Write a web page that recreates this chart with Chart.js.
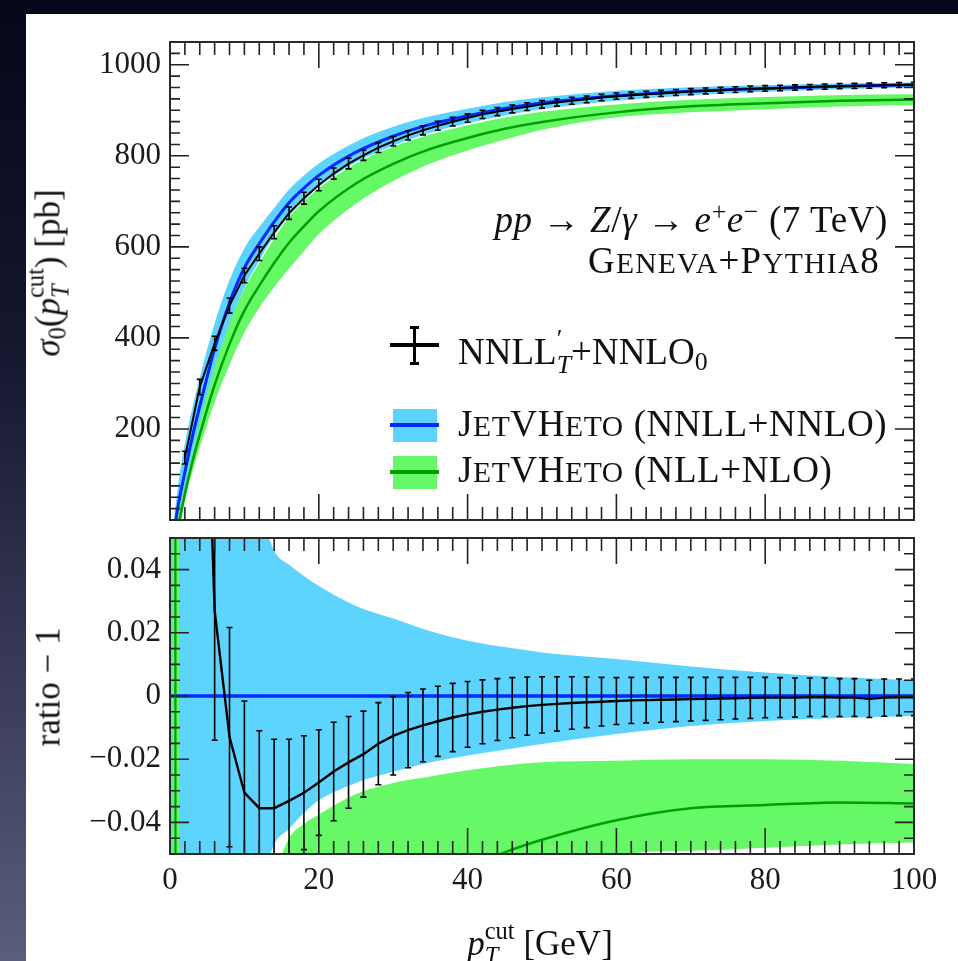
<!DOCTYPE html>
<html>
<head>
<meta charset="utf-8">
<title>sigma0(pTcut) – Geneva vs JetVHeto</title>
<script src="https://cdn.jsdelivr.net/npm/chart.js@4.4.0/dist/chart.umd.min.js"></script>
<style>
  html, body { margin: 0; padding: 0; }
  body {
    width: 958px; height: 961px; overflow: hidden; position: relative;
    background: linear-gradient(180deg, #06071a 0%, #14162e 35%, #383a58 70%, #5a5d7b 100%);
    font-family: "Liberation Serif", "DejaVu Serif", serif; color: #111;
  }
  #panel { position: absolute; left: 26px; top: 14px; right: 0; bottom: 0; background: #fff; }
  canvas { position: absolute; left: 0; }
  #topCanvas { top: 0; }
  #ratioCanvas { top: 500px; }
  .txt { position: absolute; font-size: 35px; line-height: 35px; white-space: nowrap; }
  .big { font-size: 37px; line-height: 37px; letter-spacing: 0.6px; }
  .smc { text-transform: uppercase; font-size: 0.8em; }
  .ss { display: inline-block; vertical-align: -0.36em; line-height: 1; font-size: 0.7em; text-align: left; letter-spacing: 0; }
  .ss > span { display: block; }
  sup { font-size: 0.7em; vertical-align: 0.45em; line-height: 0; }
  sub { font-size: 0.7em; vertical-align: -0.25em; line-height: 0; }
  .rot { transform: translate(-50%, -50%) rotate(-90deg); }
  .sym { position: absolute; }
</style>
</head>
<body>
<div id="panel"></div>
<canvas id="topCanvas" width="958" height="550"></canvas>
<canvas id="ratioCanvas" width="958" height="430"></canvas>

<!-- annotations -->
<div class="txt big" style="right:70px; top:201px;"><i>pp</i> → <i>Z</i>/<i>γ</i> → <i>e</i><sup>+</sup><i>e</i><sup>−</sup> (7 TeV)</div>
<div class="txt big" style="right:78px; top:242px; letter-spacing:1.2px;">G<span class="smc">eneva</span>+P<span class="smc">ythia</span>8</div>

<!-- legend -->
<div class="sym" style="left:390px; top:343px; width:49px; height:4px; background:#000;"></div>
<div class="sym" style="left:413px; top:327px; width:3px; height:37px; background:#000;"></div>
<div class="sym" style="left:410px; top:326px; width:9px; height:3px; background:#000;"></div>
<div class="sym" style="left:410px; top:362px; width:9px; height:3px; background:#000;"></div>
<div class="txt big" style="left:458px; top:326px; letter-spacing:0;">NNLL<span class="ss"><span>′</span><span><i>T</i></span></span>+NNLO<sub>0</sub></div>

<div class="sym" style="left:393px; top:409px; width:44px; height:33px; background:#5cd4fe;"></div>
<div class="sym" style="left:390px; top:423px; width:49px; height:4px; background:#0028ff;"></div>
<div class="txt big" style="left:458px; top:405px;">J<span class="smc">et</span>VH<span class="smc">eto</span> (NNLL+NNLO)</div>

<div class="sym" style="left:393px; top:456px; width:44px; height:33px; background:#66f866;"></div>
<div class="sym" style="left:390px; top:470px; width:49px; height:4px; background:#00a000;"></div>
<div class="txt big" style="left:458px; top:451px;">J<span class="smc">et</span>VH<span class="smc">eto</span> (NLL+NLO)</div>

<!-- axis titles -->
<div class="txt rot" style="left:48px; top:273px;"><i>σ</i><sub>0</sub>(<i>p</i><span class="ss"><span>cut</span><span><i>T</i></span></span>) [pb]</div>
<div class="txt rot" style="left:48px; top:687px;">ratio − 1</div>
<div class="txt" style="left:540px; top:919px; transform:translateX(-50%);"><i>p</i><span class="ss"><span>cut</span><span><i>T</i></span></span> [GeV]</div>

<script>
// ---- data ----
// theory curves (JetVHeto), common pT grid [GeV]
const thX = [0, 1, 2, 3, 4, 5, 6, 8, 10, 12, 14, 16, 18, 20, 25, 30, 35, 40, 45, 50, 60, 70, 80, 90, 100];

// top panel, sigma_0 [pb]
const blueSigma   = [-100, 22, 105, 182, 250, 315, 376, 477, 554, 607, 655, 697, 729, 757, 808, 843, 869, 888, 904, 916, 932, 942, 948, 953, 956];
const blueSigmaHi = [-80, 66, 168, 245.7, 312.5, 374.9, 432.4, 527.1, 597.2, 643.4, 685.1, 725.9, 756.7, 783.3, 831.0, 863.7, 886.8, 903.5, 918.0, 928.6, 942.9, 950.8, 955.0, 958.7, 960.8];
const blueSigmaLo = [-200, -22, 42, 118.3, 187.5, 255.2, 319.6, 426.9, 509.7, 569.4, 624.2, 667.7, 702.0, 732.0, 785.8, 822.8, 850.8, 871.3, 888.6, 902.1, 920.8, 933.1, 940.5, 946.3, 950.0];
const greenSigma   = [-130, -25, 57.8, 127.4, 187.5, 244.1, 297.0, 386.4, 459.8, 514.7, 564.6, 609.2, 645.2, 678.3, 739.3, 782.3, 815.1, 839.2, 859.3, 874.3, 895.4, 908.6, 915.3, 920.9, 923.5];
const greenSigmaHi = [-100, 5, 73.5, 145.6, 212.5, 277.2, 334.6, 431.7, 508.0, 564.5, 617.7, 665.6, 699.5, 728.6, 783.0, 819.8, 846.8, 867.1, 884.1, 896.8, 912.9, 923.2, 929.0, 933.5, 935.4];
const greenSigmaLo = [-200, -60, 42, 105.6, 160, 211.1, 259.4, 341.1, 411.6, 466.2, 511.6, 552.7, 590.5, 628.3, 694.9, 744.4, 783.0, 811.6, 835.7, 857.4, 884.9, 895.8, 902.5, 908.2, 911.6];

// ratio panel (relative to JetVHeto NNLL+NNLO)
const blueRatio   = [0, 0, 0, 0, 0, 0, 0, 0, 0, 0, 0, 0, 0, 0, 0, 0, 0, 0, 0, 0, 0, 0, 0, 0, 0];
const blueRatioHi = [3, 2, 0.6, 0.35, 0.25, 0.19, 0.15, 0.105, 0.078, 0.06, 0.046, 0.0415, 0.038, 0.0348, 0.0285, 0.0245, 0.0205, 0.0175, 0.0155, 0.0138, 0.0117, 0.0093, 0.0074, 0.006, 0.005];
const blueRatioLo = [-3, -2, -0.6, -0.35, -0.25, -0.19, -0.15, -0.105, -0.08, -0.062, -0.047, -0.042, -0.037, -0.033, -0.0275, -0.024, -0.021, -0.0188, -0.017, -0.0152, -0.012, -0.0095, -0.0079, -0.007, -0.0063];
const greenRatio   = [8, -1, -0.45, -0.3, -0.25, -0.225, -0.21, -0.19, -0.17, -0.152, -0.138, -0.126, -0.115, -0.104, -0.085, -0.072, -0.062, -0.055, -0.0495, -0.0455, -0.0393, -0.0355, -0.0345, -0.0337, -0.034];
const greenRatioHi = [-1, -1, -0.3, -0.2, -0.15, -0.12, -0.11, -0.095, -0.083, -0.07, -0.057, -0.045, -0.0405, -0.0375, -0.031, -0.0275, -0.0255, -0.0235, -0.022, -0.021, -0.0205, -0.02, -0.02, -0.0205, -0.0215];
const greenRatioLo = [-2, -2, -0.6, -0.42, -0.36, -0.33, -0.31, -0.285, -0.257, -0.232, -0.219, -0.207, -0.19, -0.17, -0.14, -0.117, -0.099, -0.086, -0.0755, -0.064, -0.0505, -0.049, -0.048, -0.047, -0.0464];
// green band fully covering the ratio near pT ~ 1 GeV
const stripX  = [0.3, 1.3];
const stripHi = [1, 1];

// GENEVA NNLL'_T + NNLO_0 points
const blackX = [2, 4, 6, 8, 10, 12, 14, 16, 18, 20, 22, 24, 26, 28, 30, 32, 34, 36, 38, 40, 42, 44, 46, 48, 50,
                52, 54, 56, 58, 60, 62, 64, 66, 68, 70, 72, 74, 76, 78, 80, 82, 84, 86, 88, 90, 92, 94, 96, 98, 100];
const blackSigma = [137, 292, 388, 471, 537, 585, 632, 674, 707, 736, 761, 783, 801, 818, 832, 845, 856, 866, 875, 883, 891, 897, 903, 908, 913,
                    917, 921, 924, 928, 931, 933, 935, 937, 939, 941, 942.5, 944, 945.5, 947, 948, 949, 950, 951, 952, 953, 953.5, 954, 955, 955.5, 956];
const blackSigmaErr = [14, 17, 15.5, 16.5, 16, 14.9, 14.3, 13.6, 13.1, 12.6, 12.2, 11.6, 11.1, 10.8, 10.5, 10.2, 10.0, 9.8, 9.6, 9.2, 9.0, 8.8, 8.6, 8.4, 8.2,
                       7.9, 7.7, 7.4, 7.2, 6.9, 6.8, 6.7, 6.7, 6.6, 6.5, 6.4, 6.3, 6.3, 6.2, 6.1, 6.0, 5.9, 5.8, 5.8, 5.7, 5.7, 5.6, 5.6, 5.5, 5.5];
const blackRatio = [0.3, 0.17, 0.027, -0.013, -0.0306, -0.0355, -0.0355, -0.0332, -0.0306, -0.0274, -0.0239, -0.021, -0.0184, -0.0151, -0.0126,
                    -0.0108, -0.0093, -0.008, -0.0068, -0.0058, -0.005, -0.0043, -0.0037, -0.0032, -0.0028, -0.0025, -0.0022, -0.002, -0.0018, -0.0016,
                    -0.0014, -0.0013, -0.0012, -0.0011, -0.001, -0.0009, -0.0008, -0.0007, -0.0006, -0.0005, -0.0005, -0.0005, -0.0004, -0.0004, -0.0005,
                    -0.0005, -0.0009, -0.0005, -0.0004, -0.0004];
const blackRatioErr = [0.13, 0.068, 0.041, 0.0347, 0.029, 0.0245, 0.0218, 0.0195, 0.018, 0.0167, 0.0156, 0.0145, 0.0136, 0.013, 0.0124,
                       0.0119, 0.0115, 0.0111, 0.0108, 0.0104, 0.0101, 0.0098, 0.0095, 0.0092, 0.0089, 0.0086, 0.0083, 0.008, 0.0077, 0.0074,
                       0.0073, 0.0072, 0.0071, 0.007, 0.0069, 0.0068, 0.0067, 0.0066, 0.0065, 0.0064, 0.0063, 0.0062, 0.0061, 0.0061, 0.006,
                       0.006, 0.0059, 0.0059, 0.0058, 0.0058];

// tick labels
const xTickValues = [0, 20, 40, 60, 80, 100];
const xTickLabels = ['0', '20', '40', '60', '80', '100'];
const sigmaTickValues = [200, 400, 600, 800, 1000];
const sigmaTickLabels = ['200', '400', '600', '800', '1000'];
const ratioTickValues = [-0.04, -0.02, 0, 0.02, 0.04];
const ratioTickLabels = ['−0.04', '−0.02', '0', '0.02', '0.04'];

// ---- styling ----
const CYAN = '#5cd4fe', BLUE = '#0028ff', LGREEN = '#66f866', DGREEN = '#00a000';
const tickFont = { family: 'Liberation Serif', size: 31 };

function pts(xs, ys) { return xs.map((x, i) => ({ x: x, y: ys[i] })); }

function curve(xs, ys, color, width) {
  return { data: pts(xs, ys), borderColor: color, borderWidth: width, pointRadius: 0,
           cubicInterpolationMode: 'monotone', fill: false };
}
function edge(xs, ys, fill, bg) {
  return { data: pts(xs, ys), borderColor: 'transparent', borderWidth: 0, pointRadius: 0,
           cubicInterpolationMode: 'monotone', fill: fill, backgroundColor: bg || 'transparent' };
}

// error bars for the GENEVA points
function makeErrorBars(xs, ys, errs) {
  return {
    id: 'errorBars',
    afterDatasetsDraw(chart) {
      const ctx = chart.ctx, a = chart.chartArea, x = chart.scales.x, y = chart.scales.y;
      ctx.save();
      ctx.beginPath();
      ctx.rect(a.left, a.top, a.right - a.left, a.bottom - a.top);
      ctx.clip();
      ctx.strokeStyle = '#000';
      ctx.lineWidth = 1.6;
      ctx.beginPath();
      xs.forEach((xv, i) => {
        const px = x.getPixelForValue(xv);
        const yt = y.getPixelForValue(ys[i] + errs[i]);
        const yb = y.getPixelForValue(ys[i] - errs[i]);
        ctx.moveTo(px, yt); ctx.lineTo(px, yb);
        ctx.moveTo(px - 3, yt); ctx.lineTo(px + 3, yt);
        ctx.moveTo(px - 3, yb); ctx.lineTo(px + 3, yb);
      });
      ctx.stroke();
      ctx.restore();
    }
  };
}

// frame with inward ticks on all four sides
function makeFrame(yStep, yFrom, yTo, yMajorEvery) {
  return {
    id: 'frame',
    afterDraw(chart) {
      const ctx = chart.ctx, a = chart.chartArea, x = chart.scales.x, y = chart.scales.y;
      ctx.save();
      ctx.strokeStyle = '#222';
      ctx.lineWidth = 1.6;
      ctx.beginPath();
      for (let k = 0; k <= 50; k++) {
        const p = x.getPixelForValue(k * 2);
        const len = (k % 10 === 0) ? 26 : 13;
        ctx.moveTo(p, a.bottom); ctx.lineTo(p, a.bottom - len);
        ctx.moveTo(p, a.top); ctx.lineTo(p, a.top + len);
      }
      for (let k = yFrom; k <= yTo; k++) {
        const p = y.getPixelForValue(k * yStep);
        const len = (k % yMajorEvery === 0) ? 19 : 10;
        ctx.moveTo(a.left, p); ctx.lineTo(a.left + len, p);
        ctx.moveTo(a.right, p); ctx.lineTo(a.right - len, p);
      }
      ctx.stroke();
      ctx.strokeStyle = '#2a2a2a';
      ctx.lineWidth = 2;
      ctx.strokeRect(a.left, a.top, a.right - a.left, a.bottom - a.top);
      ctx.restore();
    }
  };
}

const common = {
  responsive: false, animation: false, devicePixelRatio: 1, events: [],
  plugins: { legend: { display: false }, tooltip: { enabled: false } },
  elements: { line: { tension: 0 } }
};

// top panel
new Chart(document.getElementById('topCanvas'), {
  type: 'line',
  data: {
    datasets: [
      { data: pts(blackX, blackSigma), borderColor: '#000', borderWidth: 2, pointRadius: 0, fill: false },
      curve(thX, greenSigma, DGREEN, 2.5),
      curve(thX, blueSigma, BLUE, 3),
      edge(thX, greenSigmaHi, '+1', LGREEN),
      edge(thX, greenSigmaLo, false),
      edge(thX, blueSigmaHi, '+1', CYAN),
      edge(thX, blueSigmaLo, false)
    ]
  },
  options: Object.assign({}, common, {
    layout: { padding: { left: 0, right: 44, top: 42, bottom: 30 } },
    scales: {
      x: { type: 'linear', min: 0, max: 100, display: false },
      y: {
        type: 'linear', min: 0, max: 1050,
        afterFit: s => { s.width = 170; },
        afterBuildTicks: s => { s.ticks = sigmaTickValues.map(v => ({ value: v })); },
        ticks: { font: tickFont, color: '#1a1a1a', padding: 9, autoSkip: false,
                 callback: v => sigmaTickLabels[sigmaTickValues.indexOf(v)] },
        grid: { display: false, drawTicks: false },
        border: { display: false }
      }
    }
  }),
  plugins: [makeErrorBars(blackX, blackSigma, blackSigmaErr), makeFrame(25, 0, 42, 8)]
});

// ratio panel
new Chart(document.getElementById('ratioCanvas'), {
  type: 'line',
  data: {
    datasets: [
      { data: pts(blackX, blackRatio), borderColor: '#000', borderWidth: 2.4, pointRadius: 0, fill: false },
      curve(thX, greenRatio, DGREEN, 2.5),
      { data: pts(thX, blueRatio), borderColor: BLUE, borderWidth: 3.4, pointRadius: 0, fill: false },
      edge(stripX, stripHi, { value: -1 }, LGREEN),
      edge(thX, greenRatioHi, '+1', LGREEN),
      edge(thX, greenRatioLo, false),
      edge(thX, blueRatioHi, '+1', CYAN),
      edge(thX, blueRatioLo, false)
    ]
  },
  options: Object.assign({}, common, {
    layout: { padding: { left: 0, right: 44, top: 38, bottom: 0 } },
    scales: {
      x: {
        type: 'linear', min: 0, max: 100,
        afterFit: s => { s.height = 76; },
        afterBuildTicks: s => { s.ticks = xTickValues.map(v => ({ value: v })); },
        ticks: { font: tickFont, color: '#1a1a1a', padding: 8, autoSkip: false, maxRotation: 0,
                 callback: v => xTickLabels[xTickValues.indexOf(v)] },
        grid: { display: false, drawTicks: false },
        border: { display: false }
      },
      y: {
        type: 'linear', min: -0.05, max: 0.05,
        afterFit: s => { s.width = 170; },
        afterBuildTicks: s => { s.ticks = ratioTickValues.map(v => ({ value: v })); },
        ticks: { font: tickFont, color: '#1a1a1a', padding: 9, autoSkip: false,
                 callback: v => ratioTickLabels[ratioTickValues.indexOf(v)] },
        grid: { display: false, drawTicks: false },
        border: { display: false }
      }
    }
  }),
  plugins: [makeErrorBars(blackX, blackRatio, blackRatioErr), makeFrame(0.005, -10, 10, 4)]
});
</script>
</body>
</html>
